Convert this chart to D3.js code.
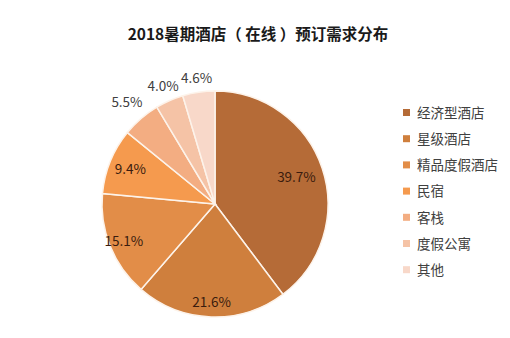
<!DOCTYPE html>
<html>
<head>
<meta charset="utf-8">
<script src="https://cdn.jsdelivr.net/npm/d3@7"></script>
<style>
  html, body { margin: 0; padding: 0; background: #fff; }
  svg { display: block; }
  text { font-family: "Noto Sans CJK SC", "Noto Sans", sans-serif; }
</style>
</head>
<body>
<script>
// 2018 summer hotel (online) booking demand distribution
const categories = ["经济型酒店", "星级酒店", "精品度假酒店", "民宿", "客栈", "度假公寓", "其他"];
const values = [39.7, 21.6, 15.1, 9.4, 5.5, 4.0, 4.6];
const colors = ["#b56b37", "#cf7f3d", "#e28d48", "#f59a4e", "#f3ad82", "#f5c3a6", "#f8d8c9"];
const titleText = "2018暑期酒店（ 在线 ）预订需求分布";

// label distance from the centre, as a fraction of the radius
const labelRadius = [0.76, 0.87, 0.87, 0.81, 1.19, 1.14, 1.13];

const W = 510, H = 338;
const cx = 215, cy = 204, R = 113;

const svg = d3.select("body").append("svg").attr("width", W).attr("height", H);

svg.append("text")
  .attr("x", 258).attr("y", 40)
  .attr("text-anchor", "middle")
  .attr("font-size", 15.5).attr("font-weight", "bold")
  .attr("fill", "#1a1a1a")
  .text(titleText);

const pie = d3.pie().sort(null).value(d => d)(values);
const arc = d3.arc().innerRadius(0).outerRadius(R);

const g = svg.append("g").attr("transform", `translate(${cx},${cy})`);

g.selectAll("path").data(pie).join("path")
  .attr("d", arc)
  .attr("fill", (d, i) => colors[i])
  .attr("stroke", "#fdf3ea")
  .attr("stroke-width", 1.5);

g.selectAll("text.lbl").data(pie).join("text")
  .attr("class", "lbl")
  .attr("transform", (d, i) => {
    const a = (d.startAngle + d.endAngle) / 2;
    const r = R * labelRadius[i];
    return `translate(${r * Math.sin(a)},${-r * Math.cos(a)})`;
  })
  .attr("text-anchor", "middle")
  .attr("dy", "0.36em")
  .attr("font-size", 13.5)
  .attr("fill", (d, i) => labelRadius[i] > 1 ? "#404040" : "#3a1c0e")
  .text(d => d.data.toFixed(1) + "%");

const legend = svg.append("g").attr("transform", "translate(403,113)");
const row = legend.selectAll("g").data(categories).join("g")
  .attr("transform", (d, i) => `translate(0,${i * 26.2})`);
row.append("rect")
  .attr("x", 0).attr("y", -4).attr("width", 7).attr("height", 7)
  .attr("fill", (d, i) => colors[i]);
row.append("text")
  .attr("x", 14).attr("y", 0).attr("dy", "0.36em")
  .attr("font-size", 13.5).attr("fill", "#404040")
  .text(d => d);
</script>
</body>
</html>
